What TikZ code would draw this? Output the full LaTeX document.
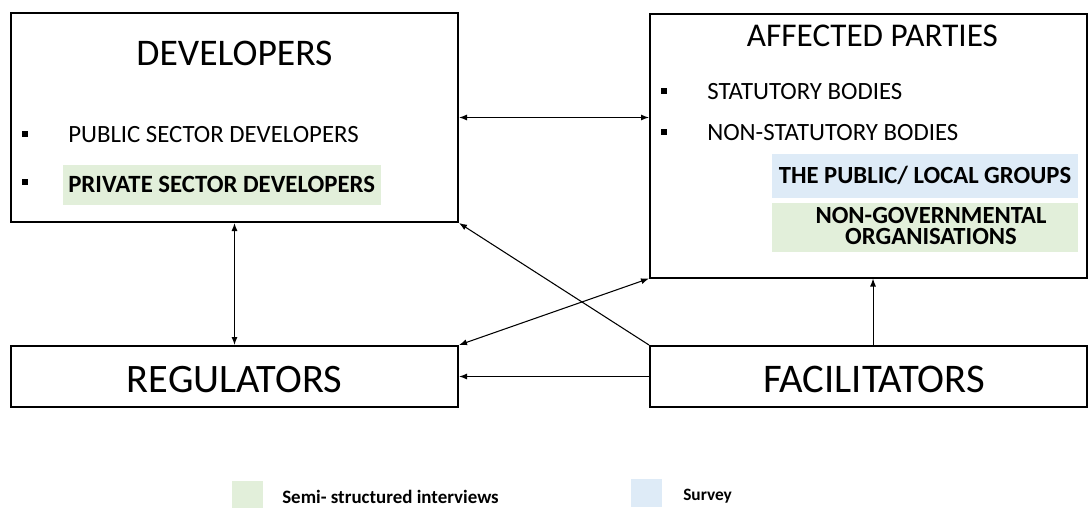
\documentclass[tikz,border=0pt]{standalone}
\usepackage{fontspec}
\setmainfont{Carlito}
\usetikzlibrary{arrows.meta}
\definecolor{interviewgreen}{HTML}{E2EFDA}
\definecolor{surveyblue}{HTML}{DEEBF7}
\begin{document}
\begin{tikzpicture}[x=0.75pt,y=-0.75pt,
  box/.style={draw=black,line width=1.5pt,fill=white,inner sep=0pt},
  link/.style={line width=0.8pt,-{Latex[length=6pt,width=4.5pt]}},
  biglink/.style={line width=0.8pt,{Latex[length=6pt,width=4.5pt]}-{Latex[length=6pt,width=4.5pt]}},
  title/.style={inner sep=0pt,font=\fontsize{28.2}{32}\selectfont},
  item/.style={inner sep=0pt,anchor=west,font=\fontsize{18.6}{21}\selectfont},
  bullet/.style={fill=black,minimum size=4.5pt,inner sep=0pt},
  tag/.style={inner sep=0pt,font=\bfseries\fontsize{18.5}{15.5}\selectfont,align=center},
  legend/.style={inner sep=0pt,anchor=west,font=\bfseries\fontsize{14.2}{16}\selectfont}]
\useasboundingbox (0,0) rectangle (1091,507);

% stakeholder boxes
\node[box,minimum width=335.25pt,minimum height=156.75pt] (dev) at (234.5,117.5) {};
\node[box,minimum width=327.75pt,minimum height=198pt] (aff) at (868.5,145.5) {};
\node[box,minimum width=335.25pt,minimum height=45.75pt] (reg) at (234.5,376.5) {};
\node[box,minimum width=327.75pt,minimum height=45.75pt] (fac) at (868.5,376.5) {};

% developers
\node[title] (devt) at (234.5,53) {DEVELOPERS};
\node[bullet] (b1) at (25,134) {};
\node[item] (pub) at (68,135) {PUBLIC SECTOR DEVELOPERS};
\node[bullet] (b2) at (25,182) {};
\node[fill=interviewgreen,minimum width=238.5pt,minimum height=30pt,inner sep=0pt] (privbg) at (222,185) {};
\node[item,font=\bfseries\fontsize{18.6}{21}\selectfont] (priv) at (68,184) {PRIVATE SECTOR DEVELOPERS};

% affected parties
\node[title,font=\fontsize{24.9}{28}\selectfont] (afft) at (872.5,36) {AFFECTED PARTIES};
\node[bullet] (b3) at (664,91) {};
\node[item] (stat) at (707,92) {STATUTORY BODIES};
\node[bullet] (b4) at (664,132) {};
\node[item] (nstat) at (707,133) {NON-STATUTORY BODIES};
\node[fill=surveyblue,minimum width=229.5pt,minimum height=33pt,inner sep=0pt] (pubbg) at (925,176) {};
\node[tag] (pubt) at (925,175) {THE PUBLIC/ LOCAL GROUPS};
\node[fill=interviewgreen,minimum width=229.5pt,minimum height=36.75pt,inner sep=0pt] (ngobg) at (925,227.5) {};
\node[tag] (ngot) at (931,226) {NON-GOVERNMENTAL\\ORGANISATIONS};

% regulators and facilitators
\node[title,font=\fontsize{30.3}{34}\selectfont] (regt) at (234.5,379.5) {REGULATORS};
\node[title,font=\fontsize{30.5}{34}\selectfont] (fact) at (874,379.5) {FACILITATORS};

% relationships
\draw[biglink] (dev.east) -- (aff.west |- dev.east);
\draw[biglink] (dev.south) -- (reg.north);
\draw[link] (fac.north west) -- (dev.south east);
\draw[biglink] (reg.north east) -- (aff.south west);
\draw[link] (fac.west) -- (reg.east);
\draw[link] ([xshift=3.4pt]fac.north) -- ([xshift=3.4pt]aff.south);

% legend
\node[fill=interviewgreen,minimum width=23.25pt,minimum height=21pt,inner sep=0pt,anchor=north west] (lg) at (232,481) {};
\node[legend] (lgt) at (282,497) {Semi- structured interviews};
\node[fill=surveyblue,minimum width=23.25pt,minimum height=21pt,inner sep=0pt,anchor=north west] (lb) at (631,479) {};
\node[legend,font=\bfseries\fontsize{13}{15}\selectfont] (lbt) at (683,496) {Survey};
\end{tikzpicture}
\end{document}
